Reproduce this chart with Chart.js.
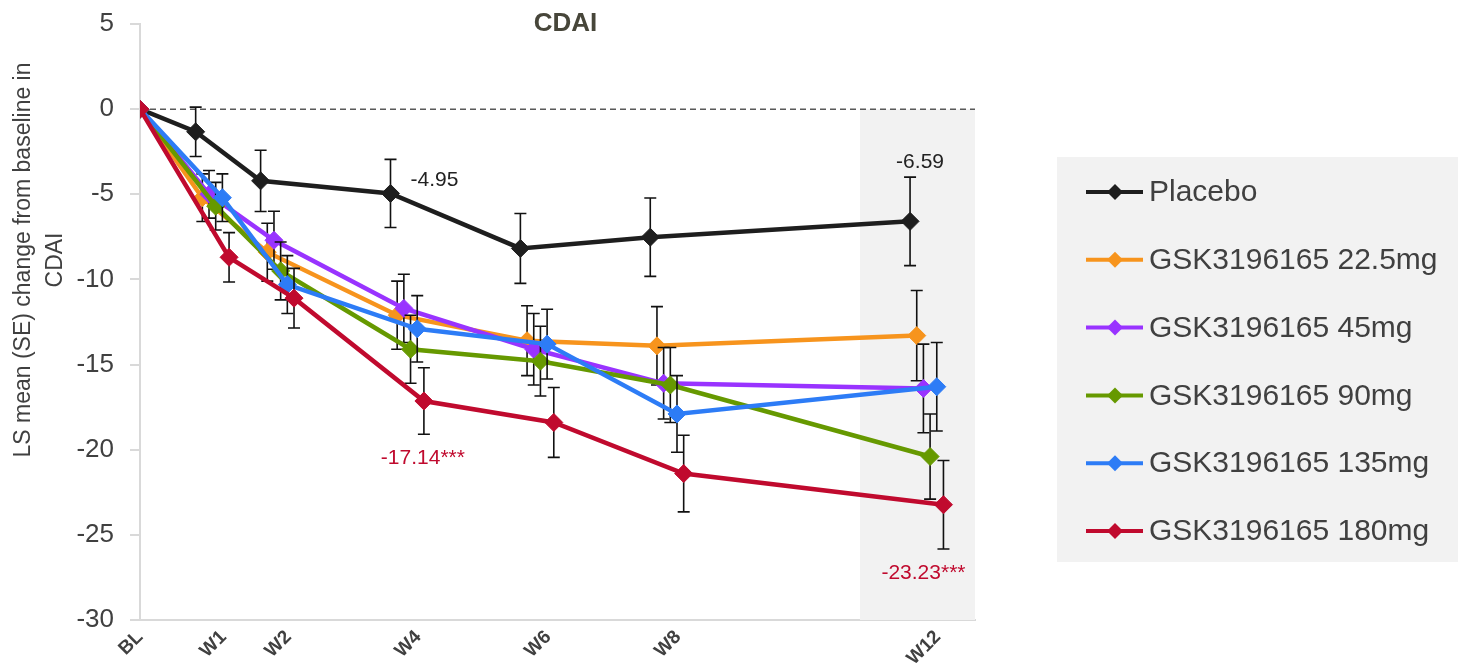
<!DOCTYPE html>
<html>
<head>
<meta charset="utf-8">
<script src="https://cdn.jsdelivr.net/npm/chart.js@4.4.1/dist/chart.umd.min.js"></script>
<style>
  html, body { margin: 0; padding: 0; background: #fff; }
  #wrap { width: 1458px; height: 668px; }
</style>
</head>
<body>
<div id="wrap"><canvas id="myChart" width="1458" height="668"></canvas></div>
<script>
'use strict';

// timepoints and the study day each one sits on
const timepoints = ['BL', 'W1', 'W2', 'W4', 'W6', 'W8', 'W12'];
const studyDays = [1, 7, 14, 28, 42, 56, 84];

const seriesNames = ['Placebo', 'GSK3196165 22.5mg', 'GSK3196165 45mg',
  'GSK3196165 90mg', 'GSK3196165 135mg', 'GSK3196165 180mg'];

// LS mean change from baseline
const placeboMean = [0, -1.33, -4.21, -4.95, -8.18, -7.52, -6.59];
const dose22Mean = [0, -5.2, -8.4, -12.1, -13.6, -13.9, -13.3];
const dose45Mean = [0, -5.0, -7.7, -11.7, -14.1, -16.1, -16.4];
const dose90Mean = [0, -5.7, -9.5, -14.1, -14.8, -16.2, -20.4];
const dose135Mean = [0, -5.2, -10.3, -12.9, -13.8, -17.9, -16.3];
const dose180Mean = [0, -8.7, -11.1, -17.14, -18.4, -21.4, -23.23];

// standard errors
const placeboSE = [0, 1.45, 1.8, 2.0, 2.05, 2.3, 2.6];
const dose22SE = [0, 1.4, 1.7, 2.0, 2.05, 2.3, 2.65];
const dose45SE = [0, 1.4, 1.7, 2.0, 2.1, 2.1, 2.6];
const dose90SE = [0, 1.4, 1.7, 2.0, 2.05, 2.2, 2.5];
const dose135SE = [0, 1.4, 1.7, 1.95, 2.05, 2.25, 2.6];
const dose180SE = [0, 1.45, 1.75, 1.95, 2.05, 2.25, 2.6];

// values printed on the chart: series index, timepoint index, suffix
const noteSeries = [0, 0, 5, 5];
const notePoint = [3, 6, 3, 6];
const noteSuffix = ['', '', '***', '***'];

const yTicks = [5, 0, -5, -10, -15, -20, -25, -30];

const seriesMeans = [placeboMean, dose22Mean, dose45Mean, dose90Mean, dose135Mean, dose180Mean];
const seriesSE = [placeboSE, dose22SE, dose45SE, dose90SE, dose135SE, dose180SE];
const colors = ['#1e1e1e', '#f7941d', '#9933ff', '#669900', '#2d7cf6', '#c00a2e'];

const FONT = "'Liberation Sans', Arial, sans-serif";
const TEXT = '#404040';
const dodgeDays = 0.72;      // side shift between series so bars don't sit on top of each other
const labelShiftDays = 3;    // x tick labels sit a little right of the placebo point

const datasets = seriesMeans.map(function (means, i) {
  return {
    label: seriesNames[i],
    data: means.map(function (v, j) {
      return { x: studyDays[j] + (j > 0 ? i * dodgeDays : 0), y: v };
    }),
    borderColor: colors[i],
    backgroundColor: colors[i],
    borderWidth: 4.5,
    pointStyle: 'rectRot',
    pointRadius: 9,
    pointBorderWidth: 1,
    pointHoverRadius: 9,
    order: seriesMeans.length - 1 - i,
    tension: 0
  };
});

const backdropPlugin = {
  id: 'backdrop',
  beforeDatasetsDraw(chart) {
    const { ctx, chartArea } = chart;
    const x = chart.scales.x;
    const y = chart.scales.y;
    ctx.save();
    // shaded week 12 band
    const left = x.getPixelForValue(studyDays[6] - 5.4);
    const zero = y.getPixelForValue(0);
    ctx.fillStyle = '#f2f2f2';
    ctx.fillRect(left, zero, chartArea.right - left, chartArea.bottom - zero);
    // dashed zero line
    ctx.strokeStyle = '#595959';
    ctx.lineWidth = 1.5;
    ctx.setLineDash([6, 4]);
    ctx.beginPath();
    ctx.moveTo(chartArea.left, zero);
    ctx.lineTo(chartArea.right, zero);
    ctx.stroke();
    ctx.restore();
  }
};

const errorBarPlugin = {
  id: 'errorBars',
  beforeDatasetDraw(chart, args) {
    const i = args.index;
    const y = chart.scales.y;
    const ctx = chart.ctx;
    ctx.save();
    ctx.strokeStyle = '#111111';
    ctx.lineWidth = 1.6;
    args.meta.data.forEach(function (pt, j) {
      const se = seriesSE[i][j];
      if (!se) return;
      const v = seriesMeans[i][j];
      const top = y.getPixelForValue(v + se);
      const bot = y.getPixelForValue(v - se);
      ctx.beginPath();
      ctx.moveTo(pt.x, top); ctx.lineTo(pt.x, bot);
      ctx.moveTo(pt.x - 6, top); ctx.lineTo(pt.x + 6, top);
      ctx.moveTo(pt.x - 6, bot); ctx.lineTo(pt.x + 6, bot);
      ctx.stroke();
    });
    ctx.restore();
  }
};

const notesPlugin = {
  id: 'notes',
  afterDatasetsDraw(chart) {
    const ctx = chart.ctx;
    const y = chart.scales.y;
    ctx.save();
    ctx.font = '21px ' + FONT;
    ctx.textBaseline = 'middle';
    for (let k = 0; k < noteSeries.length; k++) {
      const s = noteSeries[k];
      const p = notePoint[k];
      const pt = chart.getDatasetMeta(s).data[p];
      const v = seriesMeans[s][p];
      const txt = v.toFixed(2) + noteSuffix[k];
      ctx.fillStyle = s === 0 ? '#222222' : '#c00a2e';
      if (k === 0) {
        ctx.textAlign = 'left';
        ctx.fillText(txt, pt.x + 20, pt.y - 13);
      } else if (k === 1) {
        ctx.textAlign = 'center';
        ctx.fillText(txt, pt.x + 10, y.getPixelForValue(v + seriesSE[s][p]) - 15);
      } else {
        ctx.textAlign = 'center';
        ctx.fillText(txt, pt.x - (p === 6 ? 20 : 1), y.getPixelForValue(v - seriesSE[s][p]) + 24);
      }
    }
    ctx.restore();
  }
};

const textPlugin = {
  id: 'texts',
  afterDraw(chart) {
    const { ctx, chartArea } = chart;
    ctx.save();
    // title
    ctx.fillStyle = '#47463a';
    ctx.font = 'bold 26px ' + FONT;
    ctx.textAlign = 'center';
    ctx.textBaseline = 'middle';
    ctx.fillText('CDAI', (chartArea.left + chartArea.right) / 2 + 8, 24);

    // y axis title
    ctx.fillStyle = TEXT;
    ctx.font = '23px ' + FONT;
    ctx.translate(40, 260);
    ctx.rotate(-Math.PI / 2);
    ctx.fillText('LS mean (SE) change from baseline in', 0, -16);
    ctx.fillText('CDAI', 0, 16);
    ctx.restore();

    // legend
    ctx.save();
    ctx.fillStyle = '#f2f2f2';
    ctx.fillRect(1057, 157, 401, 405);
    ctx.font = '30px ' + FONT;
    ctx.textAlign = 'left';
    ctx.textBaseline = 'middle';
    seriesNames.forEach(function (name, i) {
      const cy = 192 + i * 67.8;
      ctx.strokeStyle = colors[i];
      ctx.fillStyle = colors[i];
      ctx.lineWidth = 4;
      ctx.beginPath();
      ctx.moveTo(1086, cy); ctx.lineTo(1143, cy);
      ctx.stroke();
      ctx.beginPath();
      ctx.moveTo(1115, cy - 8); ctx.lineTo(1123, cy); ctx.lineTo(1115, cy + 8); ctx.lineTo(1107, cy);
      ctx.closePath();
      ctx.fill();
      ctx.fillStyle = TEXT;
      ctx.fillText(name, 1149, cy + 1);
    });
    ctx.restore();
  }
};

const chartObj = new Chart(document.getElementById('myChart'), {
  type: 'line',
  data: { datasets: datasets },
  plugins: [backdropPlugin, errorBarPlugin, notesPlugin, textPlugin],
  options: {
    responsive: false,
    animation: false,
    layout: { padding: { top: 24, right: 483, bottom: 0, left: 0 } },
    plugins: {
      legend: { display: false },
      title: { display: false },
      tooltip: { enabled: false }
    },
    scales: {
      x: {
        type: 'linear',
        min: 1,
        max: 91,
        afterFit: function (scale) { scale.height = 48; },
        afterBuildTicks: function (scale) {
          scale.ticks = studyDays.map(function (d, i) {
            return { value: i ? d + labelShiftDays : d };
          });
        },
        ticks: {
          autoSkip: false,
          minRotation: 45,
          maxRotation: 45,
          padding: 6,
          color: TEXT,
          font: { family: FONT, size: 19, weight: 'bold' },
          callback: function (value, index) { return timepoints[index]; }
        },
        grid: { drawOnChartArea: false, drawTicks: false },
        border: { color: '#d9d9d9', width: 2 }
      },
      y: {
        min: -30,
        max: 5,
        afterFit: function (scale) {
          scale.width = 140;
          // the tick label padding should not push the plot down
          scale.paddingTop = 0;
          scale.paddingBottom = 0;
        },
        afterBuildTicks: function (scale) {
          scale.ticks = yTicks.map(function (v) { return { value: v }; });
        },
        ticks: {
          padding: 16,
          color: TEXT,
          font: { family: FONT, size: 26 }
        },
        grid: { drawOnChartArea: false, drawTicks: true, tickLength: 10, color: '#d9d9d9', lineWidth: 2 },
        border: { color: '#d9d9d9', width: 2 }
      }
    }
  }
});
</script>
</body>
</html>
